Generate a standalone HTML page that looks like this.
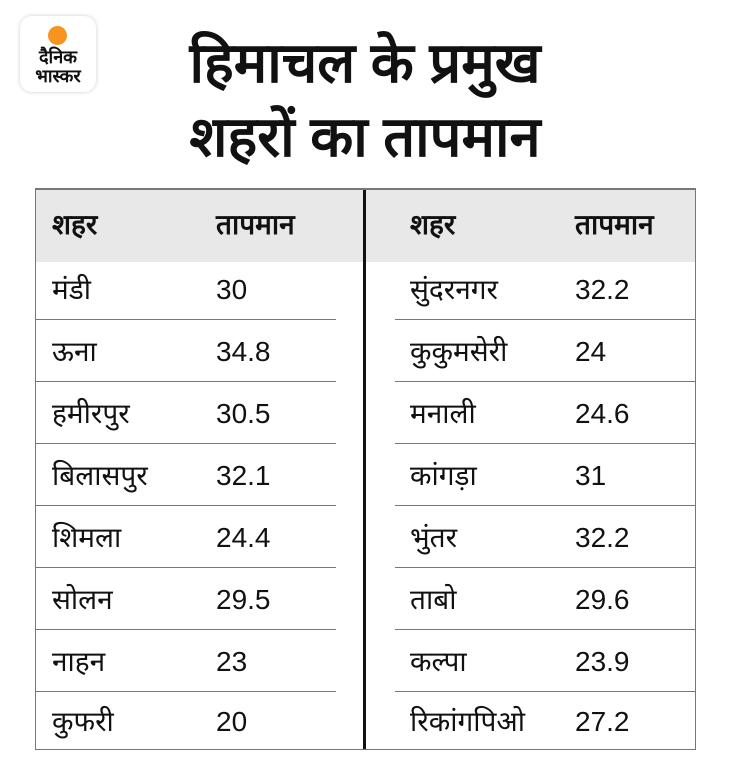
<!DOCTYPE html>
<html><head><meta charset="utf-8"><style>
body{margin:0;width:730px;height:768px;background:#fff;position:relative;overflow:hidden;font-family:"Liberation Sans","Noto Sans CJK SC",sans-serif;color:#111}
.logo{position:absolute;left:20px;top:16px;width:76px;height:76px;border-radius:12px;background:#fff;box-shadow:0 0 4px rgba(0,0,0,.2)}
.dot{position:absolute;left:48px;top:26px;width:19px;height:19px;border-radius:50%;background:#f7941d}
.lt{position:absolute;left:20px;width:76px;text-align:center;font-weight:bold;font-size:18px;line-height:18px}
.title{position:absolute;left:100px;width:530px;text-align:center;font-weight:bold;font-size:56px;line-height:74px;top:26px}
.box{position:absolute;left:35px;top:188px;width:659px;height:559px;border:1px solid #777;border-top-width:2px}
.hd{position:absolute;left:0;top:0;width:659px;height:72px;background:#e8e8e8}
.div{position:absolute;left:327px;top:0;width:3px;height:559px;background:#111}
.ln{position:absolute;height:1px;background:#777}
.t{position:absolute;font-size:28px;line-height:30px}
.b{font-weight:bold}
</style></head><body>
<div class="logo"></div><div class="dot"></div>
<div class="lt" style="top:48px">दैनिक</div><div class="lt" style="top:67px">भास्कर</div>
<div class="title">हिमाचल के प्रमुख<br>शहरों का तापमान</div>
<div class="box"><div class="hd"></div><div class="div"></div>
<div class="ln" style="left:0;width:300px;top:129px"></div><div class="ln" style="left:359px;width:300px;top:129px"></div>
<div class="ln" style="left:0;width:300px;top:191px"></div><div class="ln" style="left:359px;width:300px;top:191px"></div>
<div class="ln" style="left:0;width:300px;top:253px"></div><div class="ln" style="left:359px;width:300px;top:253px"></div>
<div class="ln" style="left:0;width:300px;top:315px"></div><div class="ln" style="left:359px;width:300px;top:315px"></div>
<div class="ln" style="left:0;width:300px;top:377px"></div><div class="ln" style="left:359px;width:300px;top:377px"></div>
<div class="ln" style="left:0;width:300px;top:439px"></div><div class="ln" style="left:359px;width:300px;top:439px"></div>
<div class="ln" style="left:0;width:300px;top:501px"></div><div class="ln" style="left:359px;width:300px;top:501px"></div>
</div>
<div class="t b" style="left:52px;top:210px">शहर</div><div class="t b" style="left:216px;top:210px">तापमान</div>
<div class="t b" style="left:410px;top:210px">शहर</div><div class="t b" style="left:575px;top:210px">तापमान</div>
<div class="t" style="left:52px;top:275px">मंडी</div><div class="t" style="left:216px;top:275px">30</div>
<div class="t" style="left:52px;top:337px">ऊना</div><div class="t" style="left:216px;top:337px">34.8</div>
<div class="t" style="left:52px;top:399px">हमीरपुर</div><div class="t" style="left:216px;top:399px">30.5</div>
<div class="t" style="left:52px;top:461px">बिलासपुर</div><div class="t" style="left:216px;top:461px">32.1</div>
<div class="t" style="left:52px;top:523px">शिमला</div><div class="t" style="left:216px;top:523px">24.4</div>
<div class="t" style="left:52px;top:585px">सोलन</div><div class="t" style="left:216px;top:585px">29.5</div>
<div class="t" style="left:52px;top:647px">नाहन</div><div class="t" style="left:216px;top:647px">23</div>
<div class="t" style="left:52px;top:707px">कुफरी</div><div class="t" style="left:216px;top:707px">20</div>
<div class="t" style="left:410px;top:275px">सुंदरनगर</div><div class="t" style="left:575px;top:275px">32.2</div>
<div class="t" style="left:410px;top:337px">कुकुमसेरी</div><div class="t" style="left:575px;top:337px">24</div>
<div class="t" style="left:410px;top:399px">मनाली</div><div class="t" style="left:575px;top:399px">24.6</div>
<div class="t" style="left:410px;top:461px">कांगड़ा</div><div class="t" style="left:575px;top:461px">31</div>
<div class="t" style="left:410px;top:523px">भुंतर</div><div class="t" style="left:575px;top:523px">32.2</div>
<div class="t" style="left:410px;top:585px">ताबो</div><div class="t" style="left:575px;top:585px">29.6</div>
<div class="t" style="left:410px;top:647px">कल्पा</div><div class="t" style="left:575px;top:647px">23.9</div>
<div class="t" style="left:410px;top:707px">रिकांगपिओ</div><div class="t" style="left:575px;top:707px">27.2</div>
</body></html>
